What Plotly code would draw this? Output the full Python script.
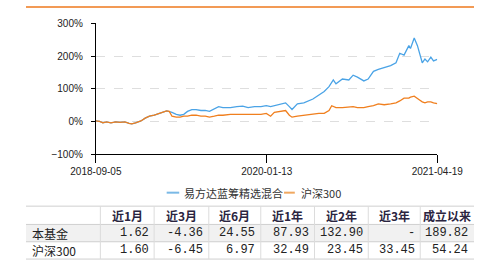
import plotly.graph_objects as go

# ---- data ----
# x positions are trading-day indices from 2018-09-05 (0) to 2021-04-19 (637)
day_idx = [0, 7, 13, 20, 28, 37, 45, 54, 62, 67, 74, 84, 92, 100, 109, 117, 124, 132, 137,
           142, 150, 157, 164, 171, 179, 187, 196, 204, 212, 221, 229, 237, 251, 263, 274,
           284, 296, 308, 318, 326, 333, 343, 354, 361, 366, 376, 388, 405, 416, 426, 435,
           440, 443, 448, 460, 472, 480, 488, 500, 508, 518, 527, 538, 550, 560, 567, 575,
           584, 587, 594, 600, 604, 609, 614, 619, 625, 630, 637]

fund_pct = [1.5, 0.0, -4.4, -1.5, -4.4, -1.5, -2.9, -1.5, -5.8, -7.3, -4.4, 1.5, 10.2, 16.0,
            19.0, 24.8, 27.7, 32.1, 30.6, 27.7, 21.9, 19.0, 21.9, 30.6, 36.4, 36.4, 33.5, 33.5,
            30.6, 39.4, 45.2, 42.3, 42.3, 45.2, 46.6, 42.3, 45.2, 45.2, 48.1, 45.2, 48.1, 53.9,
            56.8, 45.2, 36.4, 53.9, 56.8, 68.5, 80.2, 91.8, 106.4, 121.0, 126.8, 115.1, 129.7,
            126.8, 141.4, 135.5, 123.9, 129.7, 153.0, 158.9, 164.7, 170.5, 179.3, 208.4, 202.6,
            231.7, 222.9, 255.0, 231.7, 211.3, 179.3, 190.9, 182.2, 196.8, 185.1, 189.82]

hs300_pct = [1.5, 0.0, -4.4, -1.5, -4.4, -1.5, -2.9, -1.5, -5.8, -7.3, -4.4, 1.5, 10.2, 16.0,
             19.0, 24.8, 27.7, 32.1, 30.6, 16.0, 13.1, 13.1, 16.0, 16.0, 19.0, 19.0, 16.0, 16.0,
             13.1, 16.0, 19.0, 19.0, 21.9, 21.9, 21.9, 21.9, 23.3, 21.9, 24.8, 16.0, 27.7, 30.6,
             33.5, 19.0, 13.1, 16.0, 19.0, 21.9, 24.8, 24.8, 33.5, 48.1, 45.2, 42.3, 42.3, 45.2,
             45.2, 42.3, 42.3, 45.2, 48.1, 53.9, 51.0, 53.9, 56.8, 62.7, 71.4, 71.4, 74.3, 77.2,
             68.5, 65.6, 59.8, 56.8, 59.8, 59.8, 56.8, 54.24]

tick_idx = [0, 319, 637]
tick_labels = ["2018-09-05", "2020-01-13", "2021-04-19"]

series_names = ["易方达蓝筹精选混合", "沪深300"]
series_colors = ["#4aa3e6", "#f07f1e"]
legend_colors = ["#7ab9e6", "#f0a860"]

table_header = ["", "近1月", "近3月", "近6月", "近1年", "近2年", "近3年", "成立以来"]
row_labels = ["本基金", "沪深300"]
fund_returns = ["1.62", "-4.36", "24.55", "87.93", "132.90", "-", "189.82"]
hs300_returns = ["1.60", "-6.45", "6.97", "32.49", "23.45", "33.45", "54.24"]

# ---- layout constants (pixels) ----
W, H = 500, 266
col_edges = [0, 83, 143, 204, 262, 322, 382, 440, 500]
row_edges = [209, 228, 246, 264]
row_fills = ["#f1f1f1", "white"]


def px(x):
    return x / W


def py(y):
    return 1 - y / H


fig = go.Figure()

for name, ys, col in zip(series_names, [fund_pct, hs300_pct], series_colors):
    fig.add_trace(go.Scatter(x=day_idx, y=ys, mode="lines", name=name,
                             line=dict(color=col, width=1.3), showlegend=False))

shapes = [
    # orange top border
    dict(type="line", xref="paper", yref="paper", x0=0, x1=1, y0=py(2), y1=py(2),
         line=dict(color="#f29a55", width=2)),
]
annotations = []

# legend (manual, compact line samples)
legend_x = [(157, 171, 174), (288, 300, 305)]
for (x0, x1, xt), name, lc in zip(legend_x, series_names, legend_colors):
    shapes.append(dict(type="line", xref="paper", yref="paper", x0=px(x0), x1=px(x1),
                       y0=py(195), y1=py(195), line=dict(color=lc, width=2)))
    annotations.append(dict(text=name, xref="paper", yref="paper", x=px(xt), y=py(195),
                            xanchor="left", yanchor="middle", showarrow=False,
                            font=dict(family="Noto Sans CJK SC", size=11, color="#333333")))

# ---- table built from the data lists ----
rows = [[row_labels[0]] + fund_returns, [row_labels[1]] + hs300_returns]
for r, fill in enumerate(row_fills):
    if fill != "white":
        shapes.append(dict(type="rect", xref="paper", yref="paper", x0=0, x1=1,
                           y0=py(row_edges[r + 2]), y1=py(row_edges[r + 1]),
                           line=dict(width=0), fillcolor=fill, layer="below"))
for ye in row_edges:
    shapes.append(dict(type="line", xref="paper", yref="paper", x0=0, x1=1,
                       y0=py(ye), y1=py(ye), line=dict(color="#cfcfcf", width=1)))
for xe in col_edges[1:-1]:
    shapes.append(dict(type="line", xref="paper", yref="paper", x0=px(xe), x1=px(xe),
                       y0=py(row_edges[0]), y1=py(row_edges[-1]),
                       line=dict(color="#dcdcdc", width=1)))

hy = (row_edges[0] + row_edges[1]) / 2
for c, h in enumerate(table_header):
    if not h:
        continue
    xc = (col_edges[c] + col_edges[c + 1]) / 2
    annotations.append(dict(text="<b>%s</b>" % h, xref="paper", yref="paper",
                            x=px(xc), y=py(hy), xanchor="center", yanchor="middle",
                            showarrow=False,
                            font=dict(family="Noto Sans CJK SC", size=12, color="#2a2440")))

for r, row in enumerate(rows):
    yc = (row_edges[r + 1] + row_edges[r + 2]) / 2
    for c, val in enumerate(row):
        if c == 0:
            annotations.append(dict(text=val, xref="paper", yref="paper",
                                    x=px(col_edges[0] + 4), y=py(yc), xanchor="left",
                                    yanchor="middle", showarrow=False,
                                    font=dict(family="Noto Sans CJK SC", size=12,
                                              color="#222222")))
        else:
            annotations.append(dict(text=val, xref="paper", yref="paper",
                                    x=px(col_edges[c + 1] - 4), y=py(yc), xanchor="right",
                                    yanchor="middle", showarrow=False,
                                    font=dict(family="Liberation Mono", size=12,
                                              color="#222222")))

fig.update_layout(
    width=W, height=H,
    margin=dict(l=0, r=0, t=0, b=0),
    paper_bgcolor="white", plot_bgcolor="white",
    font=dict(family="Liberation Sans", size=10, color="#222222"),
    xaxis=dict(domain=[px(78), px(459)], range=[0, 637], showgrid=False, zeroline=False,
               showline=True, linecolor="black", linewidth=1,
               ticks="outside", ticklen=8, tickcolor="black",
               tickvals=tick_idx, ticktext=tick_labels,
               tickfont=dict(family="Liberation Sans", size=10, color="#222222")),
    yaxis=dict(domain=[py(155), py(19)], range=[-100, 300], dtick=100, tick0=0,
               ticksuffix="%", showgrid=True, gridcolor="#dedede", griddash="dash",
               zeroline=False, showline=True, linecolor="black", linewidth=1,
               ticks="outside", ticklen=4, tickcolor="black",
               ticklabelstandoff=6,
               tickfont=dict(family="Liberation Sans", size=10, color="#222222")),
    shapes=shapes,
    annotations=annotations,
    showlegend=False,
)

fig.write_html("out.html")
